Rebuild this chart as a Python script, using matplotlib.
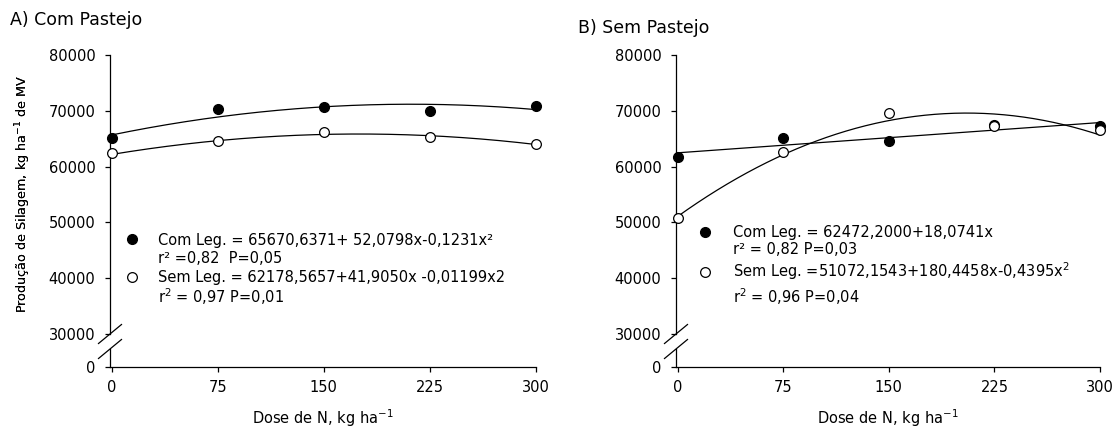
import numpy as np
import matplotlib.pyplot as plt

plt.rcParams['font.family'] = ['DejaVu Sans']
plt.rcParams['mathtext.fontset'] = 'dejavusans'

# dose de N (kg/ha)
dose = [0, 75, 150, 225, 300]

# A) Com Pastejo
a_com_leg = [65100, 70350, 70650, 70050, 70900]
a_sem_leg = [62350, 64600, 66250, 65350, 64100]
a_com_coef = [65670.6371, 52.0798, -0.1231]
a_sem_coef = [62178.5657, 41.9050, -0.1199]
a_text = ['Com Leg. = 65670,6371+ 52,0798x-0,1231x²',
          'r² =0,82  P=0,05',
          'Sem Leg. = 62178,5657+41,9050x -0,01199x2',
          r'r$^2$ = 0,97 P=0,01']

# B) Sem Pastejo
b_com_leg = [61800, 65100, 64650, 67500, 67300]
b_sem_leg = [50800, 62550, 69650, 67350, 66600]
b_com_coef = [62472.2000, 18.0741, 0.0]
b_sem_coef = [51072.1543, 180.4458, -0.4395]
b_text = ['Com Leg. = 62472,2000+18,0741x',
          'r² = 0,82 P=0,03',
          r'Sem Leg. =51072,1543+180,4458x-0,4395x$^2$',
          r'r$^2$ = 0,96 P=0,04']

yticks = [30000, 40000, 50000, 60000, 70000, 80000]
xticks = [0, 75, 150, 225, 300]

W, H = 1116, 430
fig = plt.figure(figsize=(W / 100, H / 100), dpi=100)

ax_top, ax_bot = 55, 334      # top axes (30000-80000), px from top
low_top, low_bot = 349, 367   # small axes holding 0


def poly(c, x):
    return c[0] + c[1] * x + c[2] * x ** 2


def panel(x0, x1, title, title_pos, com, sem, com_c, sem_c, lines, mark_x, text_x, base_y, mark_y):
    w = (x1 - x0) / W
    top = fig.add_axes((x0 / W, 1 - ax_bot / H, w, (ax_bot - ax_top) / H))
    bot = fig.add_axes((x0 / W, 1 - low_bot / H, w, (low_bot - low_top) / H), sharex=top)

    xs = np.linspace(0, 300, 300)
    top.plot(xs, poly(com_c, xs), color='k', lw=0.9, zorder=2)
    top.plot(xs, poly(sem_c, xs), color='k', lw=0.9, zorder=2)
    top.plot(dose, com, 'o', ms=7, color='k', zorder=3, clip_on=False)
    top.plot(dose, sem, 'o', ms=7, mfc='white', mec='k', mew=0.9, zorder=4, clip_on=False)

    top.set_xlim(-1.2, 300)
    top.set_ylim(30000, 80000)
    top.set_yticks(yticks)
    bot.set_ylim(0, 1)
    bot.set_yticks([0])
    bot.set_xticks(xticks)

    for s in ['top', 'right', 'bottom']:
        top.spines[s].set_visible(False)
    for s in ['top', 'right']:
        bot.spines[s].set_visible(False)
    for a in (top, bot):
        for s in a.spines.values():
            s.set_linewidth(0.9)
        a.tick_params(direction='out', length=3.5, width=0.9, pad=7, labelsize=10.5)
        a.patch.set_visible(False)
    top.tick_params(axis='x', bottom=False, labelbottom=False)
    bot.tick_params(axis='x', pad=6)

    # axis break marks
    dx = 11.5 / (x1 - x0)
    kw = dict(color='k', lw=0.9, clip_on=False)
    top.plot([-dx, dx], [-9.5 / (ax_bot - ax_top), 9.5 / (ax_bot - ax_top)], transform=top.transAxes, **kw)
    bot.plot([-dx, dx], [1 - 9.5 / (low_bot - low_top), 1 + 9.5 / (low_bot - low_top)],
             transform=bot.transAxes, **kw)

    top.set_ylabel(r'Produção de Silagem, kg ha$^{-1}$ de MV', fontsize=9.2)
    top.yaxis.set_label_coords((33 - x0) / (x1 - x0), 0.5)
    bot.set_xlabel(r'Dose de N, kg ha$^{-1}$', fontsize=10.5)
    bot.xaxis.set_label_coords(0.5, (low_bot - 424) / (low_bot - low_top))
    bot.xaxis.label.set_va('baseline')

    fig.text(title_pos[0] / W, 1 - title_pos[1] / H, title, fontsize=12.5, va='center')

    # legend
    top.plot(mark_x / W, 1 - mark_y[0] / H, 'o', ms=7, color='k', transform=fig.transFigure, clip_on=False)
    top.plot(mark_x / W, 1 - mark_y[1] / H, 'o', ms=7, mfc='white', mec='k', mew=0.9,
             transform=fig.transFigure, clip_on=False)
    for s, y in zip(lines, base_y):
        fig.text(text_x / W, 1 - y / H, s, fontsize=10.5, va='baseline')


panel(110, 536, 'A) Com Pastejo', (10, 20), a_com_leg, a_sem_leg, a_com_coef, a_sem_coef,
      a_text, 132, 158, [245, 263, 282, 303], [239, 277])
panel(676, 1100, 'B) Sem Pastejo', (578, 28), b_com_leg, b_sem_leg, b_com_coef, b_sem_coef,
      b_text, 705, 733, [237, 254, 277, 303], [232, 272])

fig.savefig('out.png', dpi=100)
